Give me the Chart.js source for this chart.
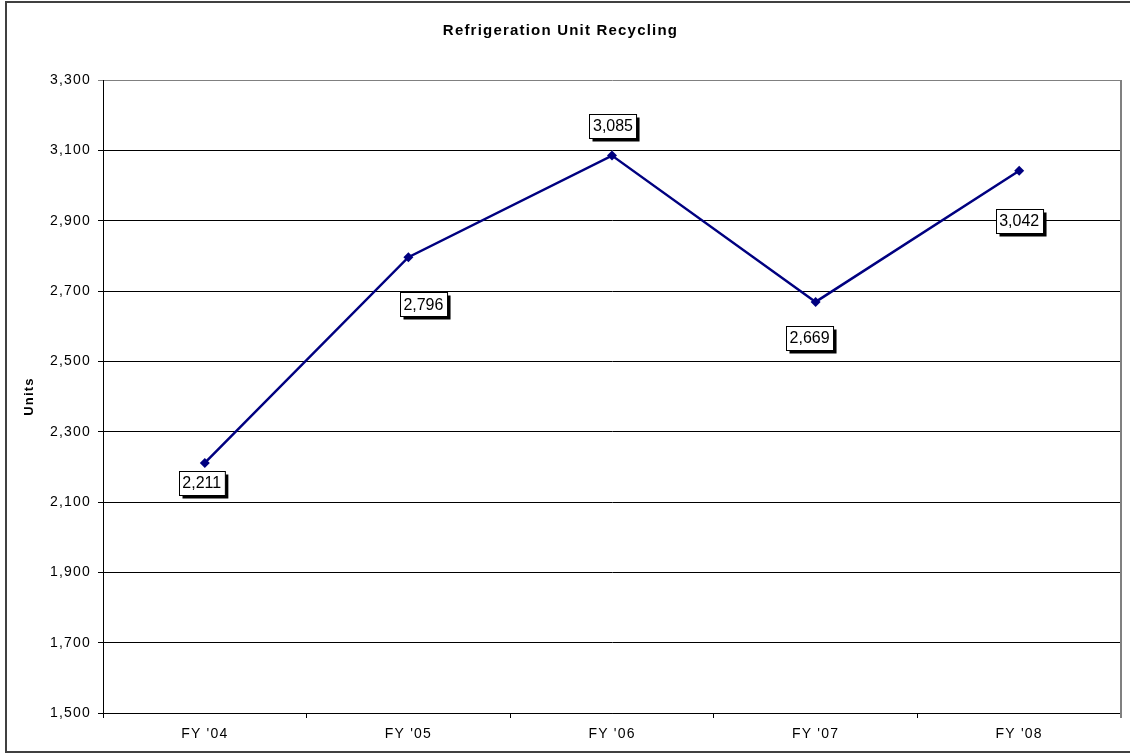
<!DOCTYPE html>
<html>
<head>
<meta charset="utf-8">
<script src="https://cdn.jsdelivr.net/npm/chart.js@4"></script>
<style>
  body { margin: 0; background: #fff; }
  canvas { display: block; }
</style>
</head>
<body>
<canvas id="recycling" width="1130" height="755"></canvas>
<script>
// data
const categories = ["FY '04", "FY '05", "FY '06", "FY '07", "FY '08"];
const units = [2211, 2796, 3085, 2669, 3042];
const yTicks = { min: 1500, max: 3300, step: 200 };

const fmt = (v) => v.toLocaleString("en-US");

// excel-ish look: wide text, frame around the whole chart
const spacingPlugin = {
  id: "spacing",
  beforeUpdate(chart) { chart.ctx.letterSpacing = "1.2px"; },
  beforeDraw(chart) {
    const ctx = chart.ctx;
    ctx.letterSpacing = "1.2px";
    ctx.save();
    ctx.fillStyle = "#fff";
    ctx.fillRect(0, 0, chart.width, chart.height);
    ctx.restore();
  },
  afterDraw(chart) {
    const ctx = chart.ctx;
    const a = chart.chartArea;
    ctx.save();
    // plot area right edge is grey
    ctx.strokeStyle = "#808080";
    ctx.lineWidth = 2;
    ctx.beginPath();
    ctx.moveTo(a.right, a.top);
    ctx.lineTo(a.right, a.bottom + 5);
    ctx.stroke();
    // outer frame
    ctx.strokeStyle = "#404040";
    ctx.lineWidth = 2;
    ctx.strokeRect(6, 2, 1140, 750);
    ctx.restore();
  },
};

// boxed value labels with a drop shadow, placed like Excel did
const boxLabels = {
  id: "boxLabels",
  afterDatasetsDraw(chart, args, opts) {
    const ctx = chart.ctx;
    const meta = chart.getDatasetMeta(0);
    ctx.save();
    ctx.letterSpacing = "0px";
    ctx.font = "16px 'Liberation Sans', Arial, sans-serif";
    ctx.textAlign = "center";
    ctx.textBaseline = "middle";
    meta.data.forEach((pt, i) => {
      const text = fmt(chart.data.datasets[0].data[i]);
      const off = opts.offsets[i];
      const cx = pt.x + off[0];
      const cy = pt.y + off[1];
      const w = ctx.measureText(text).width + 7;
      const h = 24;
      const x = Math.round(cx - w / 2) + 0.5;
      const y = Math.round(cy - h / 2) + 0.5;
      ctx.fillStyle = "#000";
      ctx.fillRect(x + 3, y + 3, w, h);
      ctx.fillStyle = "#fff";
      ctx.fillRect(x, y, w, h);
      ctx.strokeStyle = "#000";
      ctx.lineWidth = 1;
      ctx.strokeRect(x, y, w, h);
      ctx.fillStyle = "#000";
      ctx.fillText(text, cx, cy + 1);
    });
    ctx.restore();
  },
};

const ctx = document.getElementById("recycling").getContext("2d");
Chart.defaults.font.family = "'Liberation Sans', Arial, sans-serif";
Chart.defaults.color = "#000";

const chart = new Chart(ctx, {
  type: "line",
  data: {
    labels: categories,
    datasets: [
      {
        label: "Units",
        data: units,
        borderColor: "#000080",
        backgroundColor: "#000080",
        borderWidth: 2.5,
        tension: 0,
        pointStyle: "rectRot",
        pointRadius: 5,
        pointBorderWidth: 0,
        fill: false,
      },
    ],
  },
  options: {
    responsive: false,
    animation: false,
    layout: { padding: { left: 0, right: 9, top: 0, bottom: 0 } },
    plugins: {
      legend: { display: false },
      tooltip: { enabled: false },
      title: {
        display: true,
        text: "Refrigeration Unit Recycling",
        color: "#000",
        font: { size: 15, weight: "bold" },
        padding: { top: 22, bottom: 40 },
      },
      boxLabels: {
        offsets: [[-3, 20], [15, 47], [1, -30], [-6, 36], [0, 50]],
      },
    },
    scales: {
      x: {
        offset: true,
        afterFit: (scale) => { scale.height = 42; },
        grid: {
          offset: true,
          drawOnChartArea: false,
          drawTicks: true,
          tickLength: 5,
          color: "#000",
        },
        border: { display: true, color: "#000", width: 1 },
        ticks: { padding: 8, font: { size: 14 }, color: "#000", maxRotation: 0 },
      },
      y: {
        min: yTicks.min,
        max: yTicks.max,
        afterFit: (scale) => { scale.width = 103; },
        grid: {
          color: (c) => (c.tick && c.tick.value === yTicks.max ? "#808080" : "#000"),
          tickLength: 5,
          lineWidth: 1,
        },
        border: { display: true, color: "#000", width: 1 },
        ticks: {
          stepSize: yTicks.step,
          padding: 7,
          font: { size: 14 },
          color: "#000",
          callback: (v) => fmt(v),
        },
        title: {
          display: true,
          text: "Units",
          color: "#000",
          font: { size: 13, weight: "bold" },
          padding: { top: 22, bottom: 0 },
        },
      },
    },
  },
  plugins: [spacingPlugin, boxLabels],
});
</script>
</body>
</html>
